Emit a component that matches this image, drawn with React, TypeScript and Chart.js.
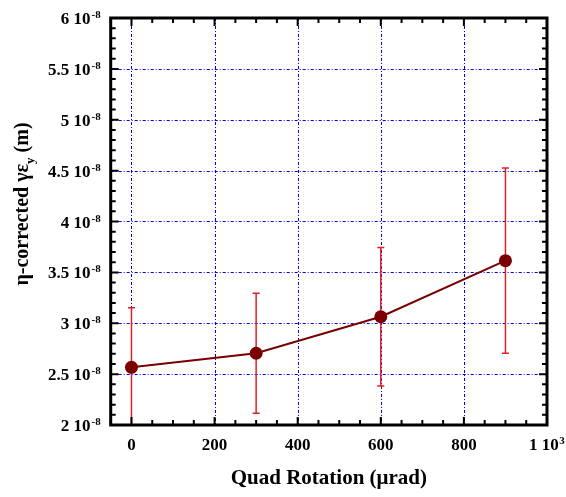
import React, { useEffect, useRef } from "react";
import { Chart, registerables } from "chart.js";

Chart.register(...registerables);

// ---- data ----
const xValues = [0, 300, 600, 900];
const yValues = [2.567e-8, 2.705e-8, 3.064e-8, 3.615e-8];
const yErrors = [0.585e-8, 0.59e-8, 0.68e-8, 0.91e-8];

const xTicks = [0, 200, 400, 600, 800, 1000];
const xTickBase = ["0", "200", "400", "600", "800", "1 10"];
const xTickExp = ["", "", "", "", "", "3"];

const yTicks = [2e-8, 2.5e-8, 3e-8, 3.5e-8, 4e-8, 4.5e-8, 5e-8, 5.5e-8, 6e-8];
const yTickBase = ["2 10", "2.5 10", "3 10", "3.5 10", "4 10", "4.5 10", "5 10", "5.5 10", "6 10"];
const yTickExp = ["-8", "-8", "-8", "-8", "-8", "-8", "-8", "-8", "-8"];

const X_MIN = -50;
const X_MAX = 1000;
const Y_MIN = 2e-8;
const Y_MAX = 6e-8;
const X_MINOR_STEP = 50;
const Y_MINOR_STEP = 0.1e-8;

const xTitle = "Quad Rotation (\u03BCrad)";

const FONT = '"Liberation Serif", "Times New Roman", serif';

const decorPlugin = {
  id: "decor",
  beforeDatasetsDraw(chart: any) {
    const ctx = chart.ctx;
    const { left, right, top, bottom } = chart.chartArea;
    const xs = chart.scales.x;
    const ys = chart.scales.y;
    ctx.save();
    // grid
    ctx.strokeStyle = "#0000e0";
    ctx.lineWidth = 1;
    ctx.setLineDash([3, 2, 1, 2]);
    xTicks.forEach((v) => {
      const px = Math.round(xs.getPixelForValue(v)) + 0.5;
      ctx.beginPath();
      ctx.moveTo(px, top);
      ctx.lineTo(px, bottom);
      ctx.stroke();
    });
    yTicks.forEach((v) => {
      const py = Math.round(ys.getPixelForValue(v)) + 0.5;
      ctx.beginPath();
      ctx.moveTo(left, py);
      ctx.lineTo(right, py);
      ctx.stroke();
    });
    ctx.setLineDash([]);
    // error bars
    ctx.beginPath();
    ctx.rect(left, top, right - left, bottom - top);
    ctx.clip();
    ctx.strokeStyle = "#e02020";
    ctx.lineWidth = 1.5;
    xValues.forEach((x, i) => {
      const px = xs.getPixelForValue(x);
      const yt = ys.getPixelForValue(yValues[i] + yErrors[i]);
      const yb = ys.getPixelForValue(yValues[i] - yErrors[i]);
      ctx.beginPath();
      ctx.moveTo(px, yt);
      ctx.lineTo(px, yb);
      ctx.moveTo(px - 3.5, yt);
      ctx.lineTo(px + 3.5, yt);
      ctx.moveTo(px - 3.5, yb);
      ctx.lineTo(px + 3.5, yb);
      ctx.stroke();
    });
    ctx.restore();
  },
  afterDraw(chart: any) {
    const ctx = chart.ctx;
    const { left, right, top, bottom } = chart.chartArea;
    const xs = chart.scales.x;
    const ys = chart.scales.y;
    ctx.save();
    ctx.strokeStyle = "#000";
    ctx.fillStyle = "#000";
    // ticks
    ctx.lineWidth = 2;
    const major = 8;
    const minor = 5;
    for (let k = 0; ; k++) {
      const v = X_MIN + k * X_MINOR_STEP;
      if (v > X_MAX + 1e-9) break;
      const isMajor = xTicks.some((t) => Math.abs(t - v) < 1e-6);
      const len = isMajor ? major : minor;
      const px = xs.getPixelForValue(v);
      ctx.beginPath();
      ctx.moveTo(px, bottom);
      ctx.lineTo(px, bottom - len);
      ctx.moveTo(px, top);
      ctx.lineTo(px, top + len);
      ctx.stroke();
    }
    for (let k = 0; ; k++) {
      const v = Y_MIN + k * Y_MINOR_STEP;
      if (v > Y_MAX + 1e-12) break;
      const isMajor = yTicks.some((t) => Math.abs(t - v) < 1e-12);
      const len = isMajor ? major : minor;
      const py = ys.getPixelForValue(v);
      ctx.beginPath();
      ctx.moveTo(left, py);
      ctx.lineTo(left + len, py);
      ctx.moveTo(right, py);
      ctx.lineTo(right - len, py);
      ctx.stroke();
    }
    // frame
    ctx.lineWidth = 3;
    ctx.strokeRect(left, top, right - left, bottom - top);

    // y tick labels
    const baseFont = "bold 17px " + FONT;
    const supFont = "bold 11px " + FONT;
    ctx.textBaseline = "alphabetic";
    ctx.textAlign = "left";
    yTicks.forEach((v, i) => {
      const py = ys.getPixelForValue(v);
      ctx.font = baseFont;
      const wb = ctx.measureText(yTickBase[i]).width;
      ctx.font = supFont;
      const we = ctx.measureText(yTickExp[i]).width;
      const endX = left - 10;
      const sx = endX - wb - 1 - we;
      ctx.font = baseFont;
      ctx.fillText(yTickBase[i], sx, py + 6);
      ctx.font = supFont;
      ctx.fillText(yTickExp[i], sx + wb + 1, py);
    });
    // x tick labels
    xTicks.forEach((v, i) => {
      const px = xs.getPixelForValue(v);
      ctx.font = baseFont;
      const wb = ctx.measureText(xTickBase[i]).width;
      const exp = xTickExp[i];
      ctx.font = supFont;
      const we = exp.length > 0 ? ctx.measureText(exp).width + 1 : 0;
      const sx = px - (wb + we) / 2;
      ctx.font = baseFont;
      ctx.fillText(xTickBase[i], sx, bottom + 25);
      if (exp.length > 0) {
        ctx.font = supFont;
        ctx.fillText(exp, sx + wb + 0.5, bottom + 19);
      }
    });
    // x title
    ctx.font = "bold 21px " + FONT;
    ctx.textAlign = "center";
    ctx.fillText(xTitle, (left + right) / 2, bottom + 59);

    // y title (rotated) with subscript
    ctx.translate(28, 204);
    ctx.rotate(-Math.PI / 2);
    ctx.textAlign = "left";
    const t1 = "\u03B7-corrected \u03B3\u03B5";
    const tSub = "y";
    const t2 = " (m)";
    const mainFont = "bold 20px " + FONT;
    const subFont = "bold 13px " + FONT;
    ctx.font = mainFont;
    const w1 = ctx.measureText(t1).width;
    const w2 = ctx.measureText(t2).width;
    ctx.font = subFont;
    const ws = ctx.measureText(tSub).width;
    const total = w1 + ws + w2;
    let x0 = -total / 2;
    ctx.font = mainFont;
    ctx.fillText(t1, x0, 0);
    ctx.font = subFont;
    ctx.fillText(tSub, x0 + w1, 6);
    ctx.font = mainFont;
    ctx.fillText(t2, x0 + w1 + ws, 0);
    ctx.restore();
  },
};

export default function App() {
  const ref = useRef<HTMLCanvasElement | null>(null);
  useEffect(() => {
    if (!ref.current) return;
    const chart = new Chart(ref.current, {
      type: "line",
      data: {
        datasets: [
          {
            data: xValues.map((x, i) => ({ x, y: yValues[i] })),
            borderColor: "#7a0000",
            backgroundColor: "#7a0000",
            borderWidth: 2,
            pointRadius: 6.5,
            pointBackgroundColor: "#7a0000",
            pointBorderColor: "#7a0000",
            pointBorderWidth: 0,
            tension: 0,
          },
        ],
      },
      options: {
        responsive: false,
        animation: false,
        events: [],
        layout: { padding: { top: 18, right: 19, left: 0, bottom: 0 } },
        plugins: { legend: { display: false }, tooltip: { enabled: false } },
        scales: {
          x: {
            type: "linear",
            min: X_MIN,
            max: X_MAX,
            grid: { display: false },
            border: { display: false },
            ticks: { display: false },
            afterFit: (s: any) => {
              s.height = 72;
            },
          },
          y: {
            type: "linear",
            min: Y_MIN,
            max: Y_MAX,
            grid: { display: false },
            border: { display: false },
            ticks: { display: false },
            afterFit: (s: any) => {
              s.width = 110.7;
            },
          },
        },
      },
      plugins: [decorPlugin],
    });
    return () => chart.destroy();
  }, []);
  return (
    <canvas
      ref={ref}
      width={566}
      height={497}
      style={{ display: "block", position: "absolute", left: 0, top: 0, width: 566, height: 497 }}
    />
  );
}
